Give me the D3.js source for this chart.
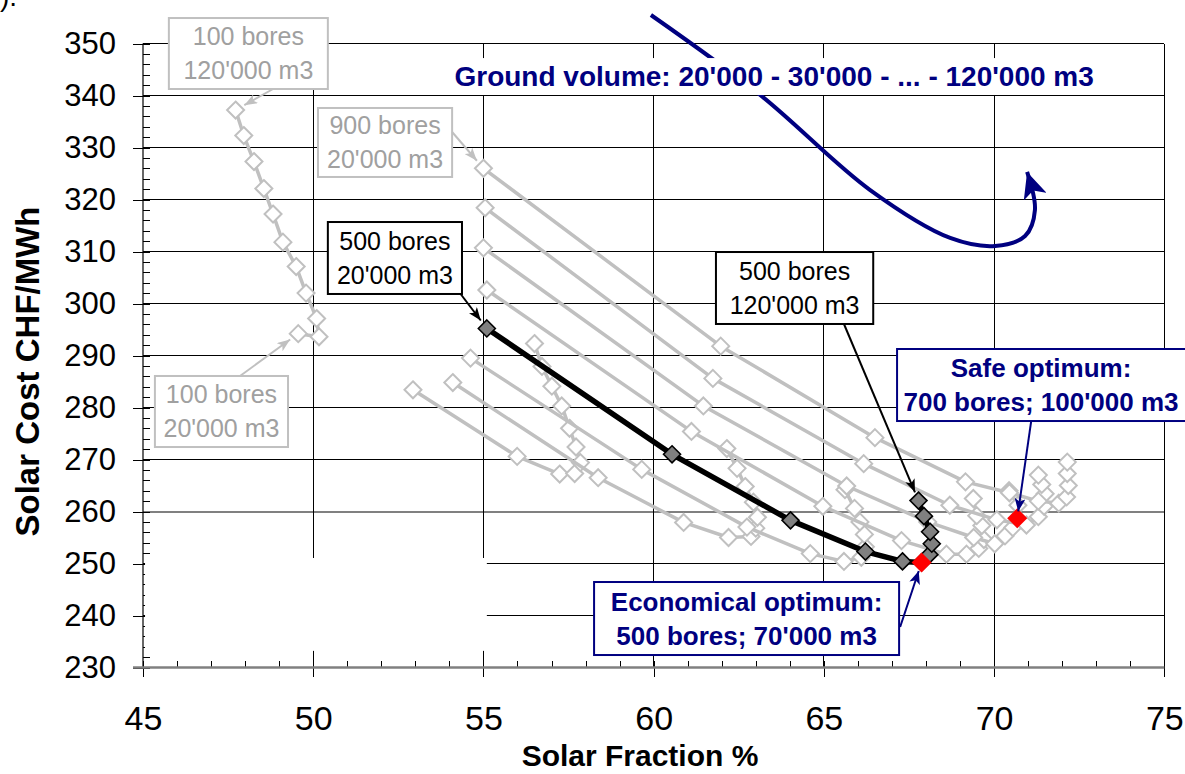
<!DOCTYPE html>
<html>
<head>
<meta charset="utf-8">
<script src="https://cdn.jsdelivr.net/npm/d3@7"></script>
<style>
  body { margin: 0; background: #fff; }
  svg { display: block; font-family: "Liberation Sans", Arial, sans-serif; }
</style>
</head>
<body>
<div id="chart"></div>
<script>
// ground volume steps (m3) and borehole numbers
const volumes = [20000, 30000, 40000, 50000, 60000, 70000, 80000, 90000, 100000, 110000, 120000];
const bores = [100, 200, 300, 400, 500, 600, 700, 800, 900];

// solar fraction % / solar cost CHF/MWh, one pair of arrays per borehole number
const sf100 = [49.56, 50.17, 50.1, 49.79, 49.5, 49.11, 48.82, 48.55, 48.26, 47.96, 47.72];
const cost100 = [294.2, 293.6, 297.1, 302.0, 307.1, 311.8, 317.2, 322.1, 327.3, 332.3, 337.2];
const sf200 = [52.93, 55.99, 57.24, 57.68, 57.85, 57.72, 57.53, 57.3, 57.01, 56.72, 56.5];
const cost200 = [283.4, 270.6, 267.2, 267.3, 269.4, 272.4, 276.0, 280.3, 284.1, 287.9, 292.3];
const sf300 = [54.1, 58.37, 60.88, 62.2, 62.86, 63.0, 63.05, 62.93, 62.69, 62.45, 62.15];
const cost300 = [284.8, 266.5, 257.9, 255.0, 255.2, 256.8, 258.9, 261.8, 264.8, 268.3, 272.1];
const sf400 = [54.62, 59.65, 62.74, 64.6, 65.59, 66.1, 66.22, 66.19, 66.06, 65.9, 65.62];
const cost400 = [289.5, 268.1, 257.0, 251.9, 250.4, 251.2, 253.2, 255.6, 258.0, 260.6, 264.2];
const sf500 = [55.1, 60.54, 64.02, 66.22, 67.31, 67.87, 68.1, 68.17, 68.12, 67.94, 67.78];
const cost500 = [295.2, 271.0, 258.3, 252.3, 250.4, 250.2, 251.7, 253.8, 256.1, 259.1, 262.1];
const sf600 = [55.1, 61.11, 64.97, 67.28, 68.6, 69.19, 69.55, 69.7, 69.64, 69.49, 69.39];
const cost600 = [302.6, 275.4, 261.0, 254.4, 251.8, 251.8, 252.9, 254.6, 257.3, 259.2, 262.5];
const sf700 = [55.0, 61.46, 65.67, 68.05, 69.4, 70.02, 70.32, 70.55, 70.68, 70.7, 70.44];
const cost700 = [310.7, 280.3, 264.9, 258.0, 255.0, 253.8, 255.3, 256.9, 258.7, 261.2, 264.0];
const sf800 = [55.05, 61.74, 66.17, 68.7, 70.08, 70.95, 71.3, 71.47, 71.5, 71.4, 71.3];
const cost800 = [318.4, 285.6, 269.2, 261.2, 258.4, 257.4, 259.0, 261.0, 263.4, 265.2, 267.0];
const sf900 = [55.0, 61.97, 66.5, 69.16, 70.45, 71.3, 71.9, 72.13, 72.18, 72.15, 72.15];
const cost900 = [326.0, 291.8, 274.2, 265.7, 263.6, 262.0, 261.6, 262.8, 265.0, 267.3, 269.5];

const seriesSf = [sf100, sf200, sf300, sf400, sf500, sf600, sf700, sf800, sf900];
const seriesCost = [cost100, cost200, cost300, cost400, cost500, cost600, cost700, cost800, cost900];

// highlighted optima
const optima = [{bores: 500, vol: 70000}, {bores: 700, vol: 100000}];

// axis ticks
const xTicks = [45, 50, 55, 60, 65, 70, 75];
const yTicks = [230, 240, 250, 260, 270, 280, 290, 300, 310, 320, 330, 340, 350];

const width = 1185, height = 774;
const navy = "#000080", lightGray = "#c0c0c0", grayText = "#a0a0a0";

let series = bores.map((b, i) => ({
  bores: b,
  pts: volumes.map((v, j) => ({vol: v, sf: seriesSf[i][j], cost: seriesCost[i][j]}))
}));

let x = d3.scaleLinear().domain([45, 75]).range([143, 1164.3]);
let y = d3.scaleLinear().domain([230, 350]).range([667.5, 43.5]);

let svg = d3.select("#chart").append("svg")
  .attr("width", width).attr("height", height);

let defs = svg.append("defs");
function arrowHead(id, color, len, wid){
  defs.append("marker")
    .attr("id", id)
    .attr("markerUnits", "userSpaceOnUse")
    .attr("viewBox", `0 ${-wid/2} ${len} ${wid}`)
    .attr("refX", len).attr("refY", 0)
    .attr("markerWidth", len).attr("markerHeight", wid)
    .attr("orient", "auto")
    .append("path")
    .attr("d", `M0,${-wid/2}L${len},0L0,${wid/2}L${len*0.25},0Z`)
    .attr("fill", color);
}
arrowHead("ah-gray", lightGray, 13, 10);
arrowHead("ah-black", "#000", 13, 10);
arrowHead("ah-navy", navy, 13, 11);
arrowHead("ah-curve", navy, 26, 24);

// stray text from the page above the figure
svg.append("text").attr("x", 0).attr("y", 6)
  .style("font-size", "28px").text(").");

// grid
let grid = svg.append("g").attr("shape-rendering", "crispEdges");
grid.selectAll(".hg").data(yTicks.filter(d => d > 230)).join("line")
  .attr("x1", x(45)).attr("x2", x(75))
  .attr("y1", d => y(d)).attr("y2", d => y(d))
  .attr("stroke", d => d === 260 ? "#808080" : "#000")
  .attr("stroke-width", d => d === 260 ? 2 : 1);
grid.selectAll(".vg").data(xTicks.filter(d => d > 45)).join("line")
  .attr("x1", d => x(d)).attr("x2", d => x(d))
  .attr("y1", y(230)).attr("y2", y(350))
  .attr("stroke", "#000").attr("stroke-width", 1);

// axes
let yAxis = svg.append("g").attr("transform", `translate(${x(45)},0)`)
  .call(d3.axisLeft(y).tickValues(yTicks).tickSize(10).tickPadding(17));
yAxis.select(".domain").remove();
yAxis.selectAll("text").style("font-size", "31px").attr("fill", "#000");

let yMinor = svg.append("g").attr("transform", `translate(${x(45)},0)`)
  .call(d3.axisRight(y).tickValues(d3.range(230, 351, 2)).tickSize(7).tickFormat(""));
yMinor.select(".domain").remove();

let xAxis = svg.append("g").attr("transform", `translate(0,${y(230)})`)
  .call(d3.axisBottom(x).tickValues(xTicks).tickSize(9).tickPadding(29));
xAxis.select(".domain").remove();
xAxis.selectAll("text").style("font-size", "34px").attr("fill", "#000");

let xMinor = svg.append("g").attr("transform", `translate(0,${y(230)})`)
  .call(d3.axisTop(x).tickValues(d3.range(45, 76, 1)).tickSize(7).tickFormat(""));
xMinor.select(".domain").remove();

svg.selectAll(".tick line").attr("shape-rendering", "crispEdges");

svg.append("line").attr("x1", x(45)).attr("x2", x(45))
  .attr("y1", y(350)).attr("y2", y(230))
  .attr("stroke", "#000").attr("stroke-width", 1.2);
svg.append("line").attr("x1", x(45) - 10).attr("x2", x(75))
  .attr("y1", y(230)).attr("y2", y(230))
  .attr("stroke", "#808080").attr("stroke-width", 2.5);

// axis titles
svg.append("text")
  .attr("transform", `translate(27,${(y(230) + y(350)) / 2 + 16}) rotate(-90)`)
  .attr("text-anchor", "middle").attr("dy", "0.35em")
  .style("font-size", "33px").style("font-weight", "bold")
  .text("Solar Cost CHF/MWh");
svg.append("text")
  .attr("x", 640).attr("y", 755).attr("dy", "0.35em")
  .attr("text-anchor", "middle")
  .style("font-size", "30px").style("font-weight", "bold")
  .text("Solar Fraction %");

// white backing behind the two free labels
function whiteRect(x0, y0, x1, y1){
  svg.append("rect")
    .attr("x", x(x0)).attr("y", y(y0))
    .attr("width", x(x1) - x(x0)).attr("height", y(y1) - y(y0))
    .attr("fill", "#fff");
}

// series
let diamond = r => `M0,${-r}L${r},0L0,${r}L${-r},0Z`;
let line = d3.line().x(d => x(d.sf)).y(d => y(d.cost));
let plot = svg.append("g");

let order = series.filter(s => s.bores !== 500).concat(series.filter(s => s.bores === 500));
order.forEach(s => {
  let main = s.bores === 500;
  let g = plot.append("g");
  g.append("path").datum(s.pts)
    .attr("d", line)
    .attr("fill", "none")
    .attr("stroke", main ? "#000" : lightGray)
    .attr("stroke-width", main ? 5.5 : 3.5)
    .attr("stroke-linejoin", "round");
  g.selectAll("path.mk").data(s.pts).join("path")
    .attr("class", "mk")
    .attr("transform", d => `translate(${x(d.sf)},${y(d.cost)})`)
    .attr("d", diamond(8.5))
    .attr("fill", main ? "#808080" : "#fff")
    .attr("stroke", main ? "#000" : lightGray)
    .attr("stroke-width", main ? 1.6 : 2);
});

let optPts = optima.map(o => {
  let s = series.find(d => d.bores === o.bores);
  return s.pts.find(p => p.vol === o.vol);
});
plot.selectAll("path.opt").data(optPts).join("path")
  .attr("class", "opt")
  .attr("transform", d => `translate(${x(d.sf)},${y(d.cost)})`)
  .attr("d", diamond(10))
  .attr("fill", "#ff0000");

// annotations
let ann = svg.append("g");

function box(x0, y0, x1, y1, lines, stroke, color, size, weight){
  let px0 = x(x0), py0 = y(y0), px1 = x(x1), py1 = y(y1);
  ann.append("rect")
    .attr("x", px0).attr("y", py0)
    .attr("width", px1 - px0).attr("height", py1 - py0)
    .attr("fill", "#fff").attr("stroke", stroke).attr("stroke-width", 2);
  let cx = (Math.min(px1, width) + px0) / 2;
  let cy = (py0 + py1) / 2;
  lines.forEach((t, i) => {
    ann.append("text")
      .attr("x", cx).attr("y", cy + (i - (lines.length - 1) / 2) * 34)
      .attr("dy", "0.35em").attr("text-anchor", "middle")
      .attr("fill", color)
      .style("font-size", size + "px").style("font-weight", weight)
      .text(t);
  });
}

function pointer(sx, sy, b, vol, color, marker, gap){
  let p = series.find(d => d.bores === b).pts.find(d => d.vol === vol);
  let x0 = x(sx), y0 = y(sy), x1 = x(p.sf), y1 = y(p.cost);
  let len = Math.hypot(x1 - x0, y1 - y0);
  let ex = x1 - (x1 - x0) / len * gap, ey = y1 - (y1 - y0) / len * gap;
  ann.append("line")
    .attr("x1", x0).attr("y1", y0).attr("x2", ex).attr("y2", ey)
    .attr("stroke", color).attr("stroke-width", 2)
    .attr("marker-end", `url(#${marker})`);
}

box(45.76, 354.9, 50.43, 341.25, ["100 bores", "120'000 m3"], lightGray, grayText, 25, "normal");
pointer(48.82, 341.25, 100, 120000, lightGray, "ah-gray", 10);

box(45.35, 286.06, 49.26, 272.4, ["100 bores", "20'000 m3"], lightGray, grayText, 25, "normal");
pointer(47.85, 286.06, 100, 20000, lightGray, "ah-gray", 10);

box(50.14, 337.6, 54.08, 324.33, ["900 bores", "20'000 m3"], lightGray, grayText, 25, "normal");
pointer(54.08, 332.98, 900, 20000, lightGray, "ah-gray", 10);

box(50.43, 315.67, 54.37, 301.83, ["500 bores", "20'000 m3"], "#000", "#000", 25, "normal");
pointer(54.33, 301.83, 500, 20000, "#000", "ah-black", 10);

box(61.83, 309.9, 66.45, 296.06, ["500 bores", "120'000 m3"], "#000", "#000", 25, "normal");
pointer(65.59, 296.06, 500, 120000, "#000", "ah-black", 9);

box(67.15, 291.25, 75.9, 277.4, ["Safe optimum:", "700 bores; 100'000 m3"], navy, navy, 26, "bold");
pointer(71.09, 277.4, 700, 100000, navy, "ah-navy", 7);

box(58.25, 246.44, 67.21, 232.4, ["Economical optimum:", "500 bores; 70'000 m3"], navy, navy, 26, "bold");
pointer(67.24, 237.79, 500, 70000, navy, "ah-navy", 9);

// borehole number label
whiteRect(45.06, 251.06, 55.1, 233.2);
ann.append("text").attr("x", x(45.59)).attr("y", y(244.9)).attr("dy", "0.35em")
  .attr("fill", navy).style("font-size", "28px").style("font-weight", "bold")
  .text("Borehole number:");
ann.append("text").attr("x", x(45.59)).attr("y", y(237.2)).attr("dy", "0.35em")
  .attr("fill", navy).style("font-size", "28px").style("font-weight", "bold")
  .text("100 - 200 - 300 - ... - 900");

// ground volume curve arrow
let curvePts = [[59.92, 355.48], [63.13, 340.1], [66.36, 321.8], [68.71, 312.6],
                [70.03, 311.06], [70.91, 312.98], [71.2, 317.98], [70.97, 325.29]];
svg.append("path")
  .attr("d", d3.line().x(d => x(d[0])).y(d => y(d[1])).curve(d3.curveCatmullRom)(curvePts))
  .attr("fill", "none").attr("stroke", navy).attr("stroke-width", 4)
  .attr("marker-end", "url(#ah-curve)");

svg.append("rect")
  .attr("x", x(53.64)).attr("y", y(347.2))
  .attr("width", x(73.41) - x(53.64)).attr("height", y(340.1) - y(347.2))
  .attr("fill", "#fff");
svg.append("text").attr("x", x(63.54)).attr("y", y(343.75)).attr("dy", "0.35em")
  .attr("text-anchor", "middle")
  .attr("fill", navy).style("font-size", "28px").style("font-weight", "bold")
  .text("Ground volume: 20'000 - 30'000 - ... - 120'000 m3");
</script>
</body>
</html>
